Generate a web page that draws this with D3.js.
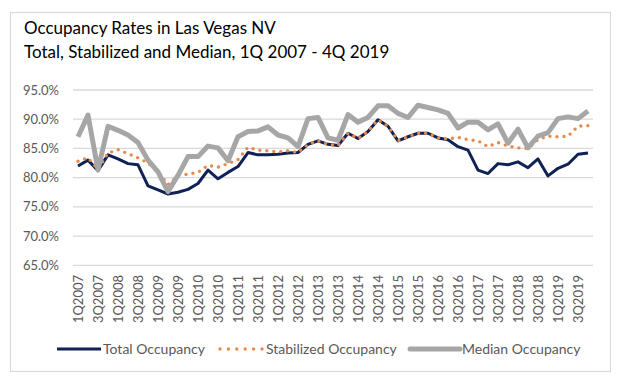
<!DOCTYPE html>
<html>
<head>
<meta charset="utf-8">
<script src="https://cdn.jsdelivr.net/npm/d3@7"></script>
<style>
  body { margin: 0; background: #fff; }
  svg text { font-family: Lato, "Open Sans", sans-serif; }
</style>
</head>
<body>
<div id="chart"></div>
<script>
// quarters 1Q2007 .. 4Q2019
var quarters = [
  "1Q2007","2Q2007","3Q2007","4Q2007","1Q2008","2Q2008","3Q2008","4Q2008",
  "1Q2009","2Q2009","3Q2009","4Q2009","1Q2010","2Q2010","3Q2010","4Q2010",
  "1Q2011","2Q2011","3Q2011","4Q2011","1Q2012","2Q2012","3Q2012","4Q2012",
  "1Q2013","2Q2013","3Q2013","4Q2013","1Q2014","2Q2014","3Q2014","4Q2014",
  "1Q2015","2Q2015","3Q2015","4Q2015","1Q2016","2Q2016","3Q2016","4Q2016",
  "1Q2017","2Q2017","3Q2017","4Q2017","1Q2018","2Q2018","3Q2018","4Q2018",
  "1Q2019","2Q2019","3Q2019","4Q2019"
];

var totalOcc = [
  82.0, 83.0, 81.2, 83.9, 83.2, 82.4, 82.2, 78.6,
  77.9, 77.2, 77.5, 78.0, 79.0, 81.3, 79.8, 80.9,
  81.9, 84.3, 83.9, 83.9, 84.0, 84.2, 84.3, 85.7,
  86.3, 85.7, 85.5, 87.6, 86.7, 87.9, 89.9, 88.8,
  86.3, 87.0, 87.6, 87.6, 86.8, 86.5, 85.3, 84.7,
  81.3, 80.7, 82.4, 82.2, 82.7, 81.7, 83.2, 80.3,
  81.6, 82.3, 84.0, 84.2
];

var stabilizedOcc = [
  82.8, 83.4, 81.4, 84.2, 84.8, 84.1, 83.4, 82.5,
  81.0, 78.8, 80.4, 80.6, 80.9, 82.1, 81.8, 82.4,
  83.1, 85.2, 84.7, 84.6, 84.4, 84.6, 84.3, 85.7,
  86.3, 85.7, 85.5, 87.6, 86.7, 87.9, 89.9, 88.8,
  86.3, 87.0, 87.6, 87.6, 86.8, 86.6, 86.9, 86.5,
  86.3, 85.3, 86.0, 85.4, 85.1, 85.0, 86.5, 87.1,
  87.0, 87.1, 88.8, 88.9
];

var medianOcc = [
  87.0, 90.7, 81.3, 88.8, 88.1, 87.3, 86.0, 83.0,
  81.0, 77.6, 80.4, 83.6, 83.6, 85.4, 85.1, 82.9,
  87.0, 87.9, 88.0, 88.7, 87.3, 86.8, 85.3, 90.1,
  90.3, 86.8, 86.4, 90.8, 89.5, 90.3, 92.3, 92.3,
  91.0, 90.3, 92.4, 92.0, 91.6, 91.0, 88.5, 89.5,
  89.5, 88.2, 89.2, 85.9, 88.3, 85.1, 87.1, 87.7,
  90.1, 90.4, 90.1, 91.4
];

var yTicks = [65, 70, 75, 80, 85, 90, 95];

var seriesNames = ["Total Occupancy", "Stabilized Occupancy", "Median Occupancy"];

var W = 617, H = 377;

var svg = d3.select("#chart").append("svg")
  .attr("width", W)
  .attr("height", H);

// outer frame
svg.append("rect")
  .attr("x", 10.5).attr("y", 12.5)
  .attr("width", 600).attr("height", 359)
  .attr("fill", "#fff")
  .attr("stroke", "#d9d9d9")
  .attr("stroke-width", 1.2);

// title
svg.append("text")
  .attr("x", 24).attr("y", 34)
  .attr("font-size", 17)
  .attr("fill", "#000")
  .text("Occupancy Rates in Las Vegas NV");
svg.append("text")
  .attr("x", 24).attr("y", 58)
  .attr("font-size", 17)
  .attr("fill", "#000")
  .text("Total, Stabilized and Median, 1Q 2007 - 4Q 2019");

var x = d3.scalePoint()
  .domain(quarters)
  .range([73, 593])
  .padding(0.5);

var y = d3.scaleLinear()
  .domain([65, 95])
  .range([265.3, 90]);

// gridlines
svg.append("g")
  .selectAll("line")
  .data(yTicks)
  .enter()
  .append("line")
  .attr("x1", 73).attr("x2", 593)
  .attr("y1", d => y(d)).attr("y2", d => y(d))
  .attr("stroke", "#d9d9d9")
  .attr("stroke-width", 1.3);

// y labels
svg.append("g")
  .selectAll("text")
  .data(yTicks)
  .enter()
  .append("text")
  .attr("x", 59)
  .attr("y", d => y(d))
  .attr("dy", "0.35em")
  .attr("text-anchor", "end")
  .attr("font-size", 13)
  .attr("fill", "#595959")
  .text(d => d.toFixed(1) + "%");

// x labels, every other quarter
svg.append("g")
  .selectAll("text")
  .data(quarters.filter((q, i) => i % 2 === 0))
  .enter()
  .append("text")
  .attr("transform", d => "translate(" + x(d) + ",275) rotate(-90)")
  .attr("dy", "0.35em")
  .attr("text-anchor", "end")
  .attr("font-size", 13)
  .attr("fill", "#595959")
  .text(d => d);

var line = d3.line()
  .x((d, i) => x(quarters[i]))
  .y(d => y(d));

svg.append("path")
  .datum(totalOcc)
  .attr("d", line)
  .attr("fill", "none")
  .attr("stroke", "#0f2155")
  .attr("stroke-width", 3)
  .attr("stroke-linejoin", "round");

svg.append("path")
  .datum(stabilizedOcc)
  .attr("d", line)
  .attr("fill", "none")
  .attr("stroke", "#e8894a")
  .attr("stroke-width", 3.4)
  .attr("stroke-linecap", "round")
  .attr("stroke-dasharray", "0 7");

svg.append("path")
  .datum(medianOcc)
  .attr("d", line)
  .attr("fill", "none")
  .attr("stroke", "#a6a6a6")
  .attr("stroke-width", 5)
  .attr("stroke-linejoin", "round");

// legend
var legY = 349;
var leg = svg.append("g");
leg.append("line")
  .attr("x1", 57).attr("x2", 101).attr("y1", legY).attr("y2", legY)
  .attr("stroke", "#0f2155").attr("stroke-width", 3);
leg.append("text")
  .attr("x", 103).attr("y", legY).attr("dy", "0.35em")
  .attr("font-size", 14).attr("fill", "#595959")
  .text(seriesNames[0]);

leg.append("line")
  .attr("x1", 220).attr("x2", 262).attr("y1", legY).attr("y2", legY)
  .attr("stroke", "#e8894a").attr("stroke-width", 3.4)
  .attr("stroke-linecap", "round").attr("stroke-dasharray", "0 8.4");
leg.append("text")
  .attr("x", 266).attr("y", legY).attr("dy", "0.35em")
  .attr("font-size", 14).attr("fill", "#595959")
  .text(seriesNames[1]);

leg.append("line")
  .attr("x1", 410).attr("x2", 460).attr("y1", legY).attr("y2", legY)
  .attr("stroke", "#a6a6a6").attr("stroke-width", 5)
  .attr("stroke-linecap", "round");
leg.append("text")
  .attr("x", 462).attr("y", legY).attr("dy", "0.35em")
  .attr("font-size", 14).attr("fill", "#595959")
  .text(seriesNames[2]);
</script>
</body>
</html>
